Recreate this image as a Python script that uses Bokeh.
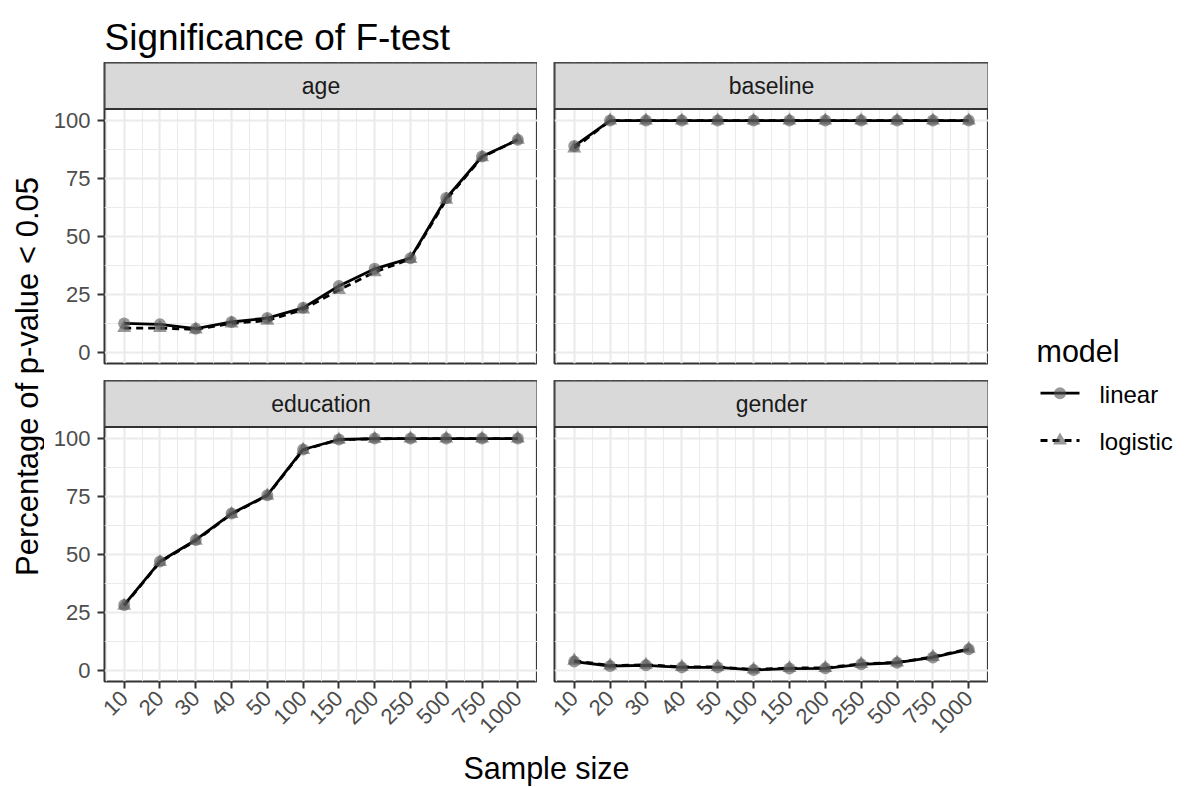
import math
from bokeh.plotting import figure
from bokeh.models import Range1d, FixedTicker, Grid
from bokeh.layouts import column, row
from bokeh.embed import file_html
from bokeh.resources import INLINE
from bokeh.core.properties import value

# ---------------- data ----------------
sample_sizes = ["10", "20", "30", "40", "50", "100", "150", "200", "250", "500", "750", "1000"]
y_ticks = [0, 25, 50, 75, 100]

age_linear = [12.6, 12.2, 10.3, 13.2, 14.9, 19.3, 28.7, 36.1, 40.7, 66.6, 84.5, 91.7]
age_logistic = [10.6, 10.6, 10.0, 12.6, 13.8, 18.6, 27.0, 34.7, 40.4, 65.9, 84.2, 91.7]

baseline_linear = [89.0, 100, 100, 100, 100, 100, 100, 100, 100, 100, 100, 100]
baseline_logistic = [88.0, 100, 100, 100, 100, 100, 100, 100, 100, 100, 100, 100]

education_linear = [28.3, 47.0, 56.3, 67.7, 75.6, 95.3, 99.6, 100, 100, 100, 100, 100]
education_logistic = [28.0, 46.8, 56.0, 67.5, 75.4, 95.1, 99.5, 99.9, 100, 100, 100, 100]

gender_linear = [3.9, 2.0, 2.3, 1.4, 1.4, 0.3, 0.9, 1.0, 2.7, 3.4, 5.7, 9.2]
gender_logistic = [4.3, 2.2, 2.5, 1.6, 1.6, 0.5, 1.1, 1.2, 2.9, 3.5, 5.9, 9.4]

panel_names = ["age", "baseline", "education", "gender"]
models = ["linear", "logistic"]

# ---------------- style ----------------
FONT = "Liberation Sans"
GRID_COL = "#EBEBEB"
BORDER_COL = "#333333"
TICK_LABEL_COL = "#4D4D4D"
STRIP_FILL = "#D9D9D9"
POINT_COL = "#555555"

x_pos = list(range(1, len(sample_sizes) + 1))
n = len(x_pos)
xlo = 1 - 0.05 * (n - 1)
xhi = n + 0.05 * (n - 1)

all_vals = (age_linear + age_logistic + baseline_linear + baseline_logistic +
            education_linear + education_logistic + gender_linear + gender_logistic)
vmin, vmax = min(all_vals), max(all_vals)
span = vmax - vmin
ylo = vmin - 0.05 * span
yhi = vmax + 0.05 * span

FRAME_H = 301
STRIP_H = 46.5
PANEL_H = FRAME_H - STRIP_H
ytop = yhi + (yhi - ylo) * STRIP_H / PANEL_H

PAGE_H = 787
TITLE_H = 62
BOTTOM_AXIS_H = 68
GAP = 17
LEFT_AXIS_W = 60
YLAB_W = 44
FW_L = 433
FW_R = 434
LEG_W = 199
TOTAL_W = YLAB_W + LEFT_AXIS_W + FW_L + GAP + FW_R + LEG_W
MID_H = (FRAME_H + GAP) + (FRAME_H + BOTTOM_AXIS_H)
FOOT_H = PAGE_H - TITLE_H - MID_H - 1


def label_fig(w, h, x0, x1, ytop_, ybot_):
    p = figure(width=w, height=h, frame_width=w, frame_height=h,
               x_range=Range1d(x0, x1), y_range=Range1d(ybot_, ytop_),
               x_axis_location=None, y_axis_location=None,
               toolbar_location=None, output_backend="svg",
               min_border_left=0, min_border_right=0, min_border_top=0, min_border_bottom=0,
               outline_line_color=None, background_fill_color="white", border_fill_color="white")
    for g in p.grid:
        g.visible = False
    return p


def make_panel(name, lin, logi, left_axis, bottom_axis, frame_w, mb_left, mb_bottom):
    p = figure(frame_width=frame_w, frame_height=FRAME_H,
               x_range=Range1d(xlo, xhi), y_range=Range1d(ylo, ytop),
               x_axis_location="below" if bottom_axis else None,
               y_axis_location="left" if left_axis else None,
               toolbar_location=None, output_backend="svg",
               min_border_left=mb_left, min_border_right=0,
               min_border_top=0, min_border_bottom=mb_bottom,
               background_fill_color="white", border_fill_color="white",
               outline_line_color=BORDER_COL, outline_line_width=2)
    for g in p.grid:
        g.visible = False
    minor_x = [i + 0.5 for i in range(0, n + 1)]
    minor_y = [t + 12.5 for t in [-25] + y_ticks]
    gx = Grid(dimension=0, ticker=FixedTicker(ticks=x_pos, minor_ticks=minor_x),
              grid_line_color=GRID_COL, grid_line_width=2.2,
              minor_grid_line_color=GRID_COL, minor_grid_line_width=1.1)
    gy = Grid(dimension=1, ticker=FixedTicker(ticks=y_ticks, minor_ticks=minor_y),
              grid_line_color=GRID_COL, grid_line_width=2.2,
              minor_grid_line_color=GRID_COL, minor_grid_line_width=1.1)
    p.add_layout(gx, "center")
    p.add_layout(gy, "center")

    if left_axis:
        ax = p.yaxis[0]
        ax.ticker = FixedTicker(ticks=y_ticks)
        ax.major_label_text_font = FONT
        ax.major_label_text_font_size = "22px"
        ax.major_label_text_color = TICK_LABEL_COL
        ax.major_tick_line_color = BORDER_COL
        ax.major_tick_line_width = 2
        ax.major_tick_out = 7
        ax.major_tick_in = 0
        ax.minor_tick_line_color = None
        ax.axis_line_color = None
        ax.major_label_standoff = 7
    if bottom_axis:
        ax = p.xaxis[0]
        ax.ticker = FixedTicker(ticks=x_pos)
        ax.major_label_overrides = {i: s for i, s in zip(x_pos, sample_sizes)}
        ax.major_label_orientation = math.pi / 4
        ax.major_label_text_font = FONT
        ax.major_label_text_font_size = "22px"
        ax.major_label_text_color = TICK_LABEL_COL
        ax.major_tick_line_color = BORDER_COL
        ax.major_tick_line_width = 2
        ax.major_tick_out = 7
        ax.major_tick_in = 0
        ax.minor_tick_line_color = None
        ax.axis_line_color = None
        ax.major_label_standoff = 6

    # data: lines first, then points
    p.line(x_pos, lin, line_color="black", line_width=2.8)
    p.line(x_pos, logi, line_color="black", line_width=2.8, line_dash="7 5")
    p.scatter(x_pos, lin, marker="circle", size=12, fill_color=POINT_COL,
              fill_alpha=0.6, line_color=None)
    p.scatter(x_pos, logi, marker="triangle", size=14, fill_color=POINT_COL,
              fill_alpha=0.6, line_color=None)

    # facet strip
    p.quad(left=[xlo], right=[xhi], bottom=[yhi], top=[ytop],
           fill_color=STRIP_FILL, line_color=BORDER_COL, line_width=2)
    p.text(x=[(xlo + xhi) / 2], y=[(yhi + ytop) / 2], text=[name],
           text_align="center", text_baseline="middle",
           text_font=value(FONT), text_font_size="23px", text_color="#1A1A1A")
    return p


p_age = make_panel(panel_names[0], age_linear, age_logistic, True, False, FW_L, LEFT_AXIS_W, GAP)
p_base = make_panel(panel_names[1], baseline_linear, baseline_logistic, False, False, FW_R, GAP, GAP)
p_edu = make_panel(panel_names[2], education_linear, education_logistic, True, True, FW_L, LEFT_AXIS_W, BOTTOM_AXIS_H)
p_gen = make_panel(panel_names[3], gender_linear, gender_logistic, False, True, FW_R, GAP, BOTTOM_AXIS_H)

# title (page pixel coordinates)
p_title = label_fig(TOTAL_W, TITLE_H, 0, TOTAL_W, 0, TITLE_H)
p_title.text(x=[YLAB_W + LEFT_AXIS_W], y=[37], text=["Significance of F-test"],
             text_align="left", text_baseline="alphabetic",
             text_font=value(FONT), text_font_size="37px", text_color="black")

# y label
y0 = TITLE_H
y1 = TITLE_H + MID_H
p_ylab = label_fig(YLAB_W, MID_H, 0, YLAB_W, y0, y1)
p_ylab.text(x=[27], y=[376], text=["Percentage of p-value < 0.05"], angle=math.pi / 2,
            text_align="center", text_baseline="middle",
            text_font=value(FONT), text_font_size="31px", text_color="black")

# legend
lx0 = TOTAL_W - LEG_W
p_leg = label_fig(LEG_W, MID_H, lx0, TOTAL_W, y0, y1)
p_leg.text(x=[1036], y=[350.7], text=["model"], text_align="left", text_baseline="alphabetic",
           text_font=value(FONT), text_font_size="30.5px", text_color="black")
key_y = [392.7, 440.0]
dashes = ["solid", "7 5"]
markers = ["circle", "triangle"]
msizes = [12, 14]
for m, ky, d, mk, ms in zip(models, key_y, dashes, markers, msizes):
    p_leg.line([1040, 1079], [ky, ky], line_color="black", line_width=2.8, line_dash=d)
    p_leg.scatter([1059.5], [ky], marker=mk, size=ms, fill_color=POINT_COL,
                  fill_alpha=0.6, line_color=None)
    p_leg.text(x=[1099], y=[ky + 1], text=[m], text_align="left", text_baseline="middle",
               text_font=value(FONT), text_font_size="24px", text_color="black")

# x label (centred in its own strip)
p_foot = label_fig(TOTAL_W, FOOT_H, 0, TOTAL_W, y1, y1 + FOOT_H)
p_foot.text(x=[YLAB_W + LEFT_AXIS_W + (FW_L + GAP + FW_R) / 2], y=[y1 + FOOT_H / 2],
            text=["Sample size"],
            text_align="center", text_baseline="middle",
            text_font=value(FONT), text_font_size="30.5px", text_color="black")

grid_block = column(row(p_age, p_base, spacing=0), row(p_edu, p_gen, spacing=0), spacing=0)
mid = row(p_ylab, grid_block, p_leg, spacing=0)
layout = column(p_title, mid, p_foot, spacing=0)

open("out.html", "w").write(file_html(layout, INLINE))
